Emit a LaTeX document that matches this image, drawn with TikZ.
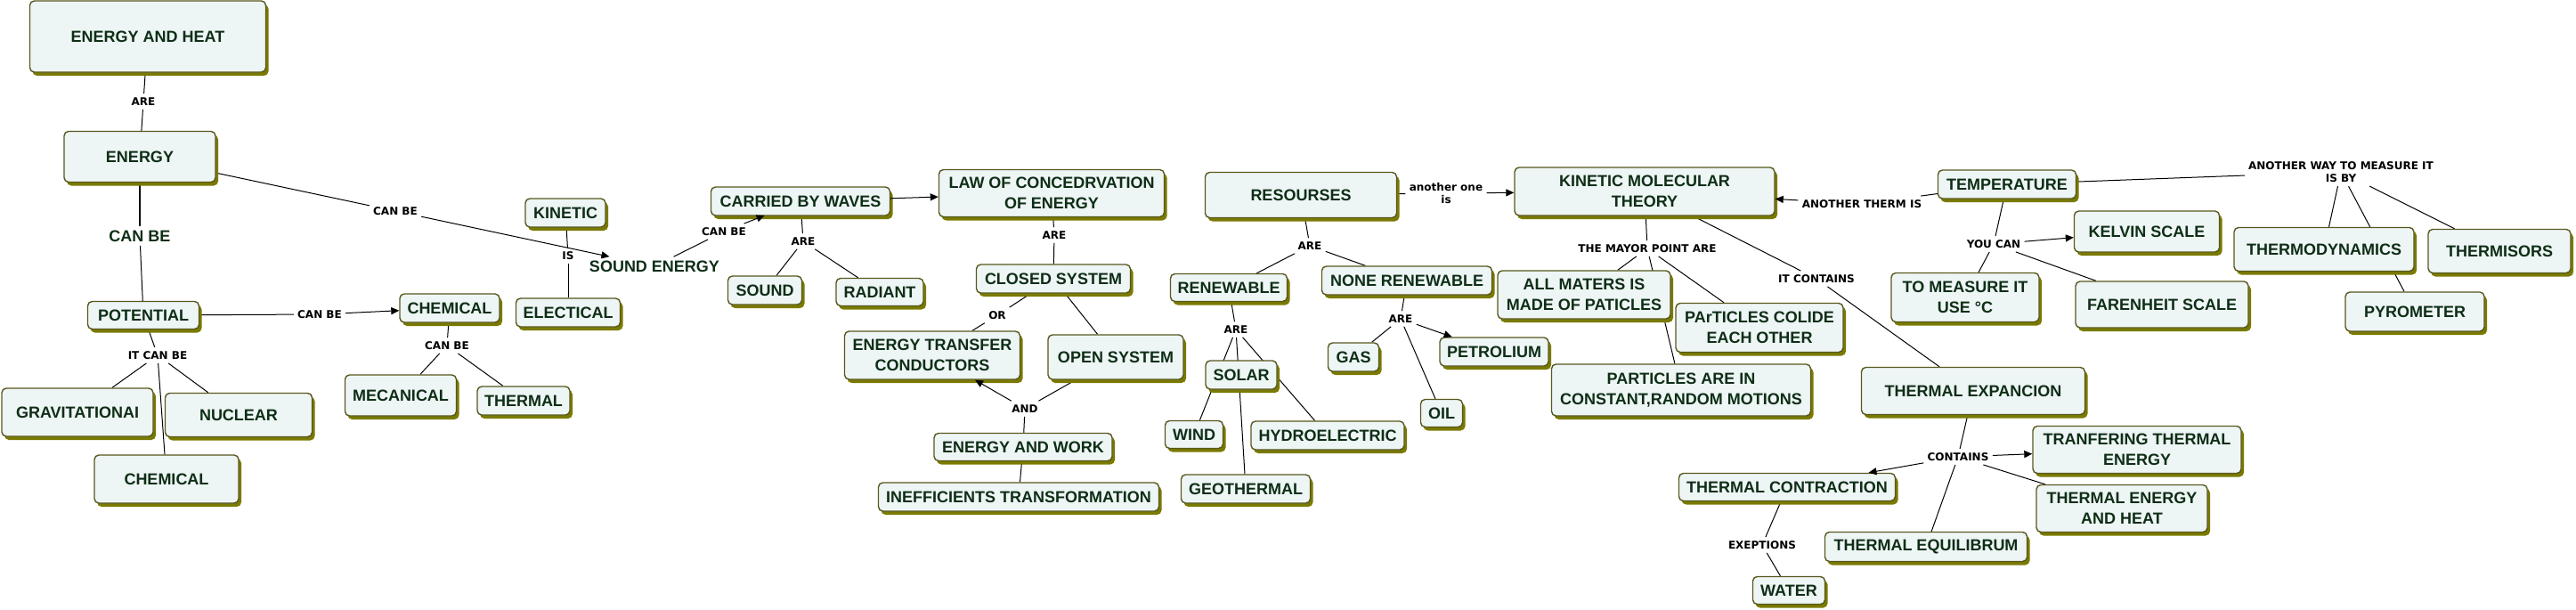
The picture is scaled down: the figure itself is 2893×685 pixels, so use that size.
\documentclass[tikz,border=0pt]{standalone}
\usepackage{fontspec}
\usepackage{xcolor}
\usetikzlibrary{arrows.meta, shadows, backgrounds}
\newfontfamily\conceptfont{Liberation Sans}
\newfontfamily\linkfont{DejaVu Sans}
\definecolor{boxfill}{RGB}{238,245,245}
\definecolor{boxline}{RGB}{88,88,30}
\definecolor{shadowolive}{RGB}{122,122,0}
\definecolor{conceptgreen}{RGB}{14,46,22}

\begin{document}
\begin{tikzpicture}[
  x=0.5pt, y=-0.5pt,
  concept/.style={rectangle, rounded corners=2.5pt, draw=boxline, line width=0.7pt,
                  fill=boxfill, text=conceptgreen, align=center, inner sep=2pt,
                  font=\conceptfont\bfseries\fontsize{9}{11.3}\selectfont,
                  drop shadow={shadow xshift=1.5pt, shadow yshift=-2pt,
                               fill=shadowolive, opacity=1}},
  bare/.style={text=conceptgreen, inner sep=2pt,
               font=\conceptfont\bfseries\fontsize{9}{11.3}\selectfont},
  link/.style={text=black, align=center, inner sep=2pt,
               font=\linkfont\bfseries\fontsize{6}{7.2}\selectfont},
  conn/.style={line width=0.5pt, black},
  arr/.style={conn, -{Triangle[length=4.5pt, width=4pt]}},
]
\useasboundingbox (0,0) rectangle (2893,685);

% Energy
\node[concept, minimum width=132.5pt, minimum height=40pt] (heat) at (166,41) {ENERGY AND HEAT};
\node[concept, minimum width=85pt, minimum height=28.5pt] (energy) at (157,176) {ENERGY};
\node[bare] (canbig) at (157,265) {CAN BE};
\node[concept, minimum width=62.5pt, minimum height=15.5pt] (potential) at (161,354) {POTENTIAL};
\node[concept, minimum width=85pt, minimum height=27pt] (gravit) at (87,463) {GRAVITATIONAI};
\node[concept, minimum width=82.5pt, minimum height=24.5pt] (nuclear) at (268,466) {NUCLEAR};
\node[concept, minimum width=81pt, minimum height=27pt] (chemB) at (187,538) {CHEMICAL};
\node[concept, minimum width=56pt, minimum height=16pt] (chemA) at (505,346) {CHEMICAL};
\node[concept, minimum width=62.5pt, minimum height=23pt] (mecanical) at (450,444) {MECANICAL};
\node[concept, minimum width=52pt, minimum height=16pt] (thermal) at (588,450) {THERMAL};
\node[concept, minimum width=45pt, minimum height=16pt] (kinetic) at (635,239) {KINETIC};
\node[concept, minimum width=58.5pt, minimum height=16pt] (electical) at (638,351) {ELECTICAL};
\node[bare] (soundenergy) at (735,299) {SOUND ENERGY};

% Waves and conservation
\node[concept, minimum width=100.5pt, minimum height=16pt] (carried) at (899,226) {CARRIED BY WAVES};
\node[concept, minimum width=41.5pt, minimum height=16pt] (sound) at (859,326) {SOUND};
\node[concept, minimum width=49pt, minimum height=15.5pt] (radiant) at (988,328) {RADIANT};
\node[concept, minimum width=126.5pt, minimum height=26.5pt] (law) at (1181,217) {LAW OF CONCEDRVATION\\OF ENERGY};
\node[concept, minimum width=86.5pt, minimum height=16pt] (closed) at (1183,313) {CLOSED SYSTEM};
\node[concept, minimum width=98.5pt, minimum height=27pt] (transfer) at (1047,399) {ENERGY TRANSFER\\CONDUCTORS};
\node[concept, minimum width=76pt, minimum height=25pt] (open) at (1253,401) {OPEN SYSTEM};
\node[concept, minimum width=100pt, minimum height=15.5pt] (work) at (1149,502) {ENERGY AND WORK};
\node[concept, minimum width=157.5pt, minimum height=16pt] (ineff) at (1144,558) {INEFFICIENTS TRANSFORMATION};

% Resources
\node[concept, minimum width=107.5pt, minimum height=25.5pt] (resourses) at (1461,219) {RESOURSES};
\node[concept, minimum width=65.5pt, minimum height=15.5pt] (renewable) at (1380,323) {RENEWABLE};
\node[concept, minimum width=95.5pt, minimum height=16pt] (nonren) at (1580,315) {NONE RENEWABLE};
\node[concept, minimum width=40pt, minimum height=16pt] (solar) at (1394,421) {SOLAR};
\node[concept, minimum width=32.5pt, minimum height=15.5pt] (wind) at (1341,488) {WIND};
\node[concept, minimum width=86pt, minimum height=16pt] (hydro) at (1491,489) {HYDROELECTRIC};
\node[concept, minimum width=72.5pt, minimum height=16pt] (geo) at (1399,549) {GEOTHERMAL};
\node[concept, minimum width=28.5pt, minimum height=16pt] (gas) at (1520,401) {GAS};
\node[concept, minimum width=61pt, minimum height=16pt] (petrol) at (1678,395) {PETROLIUM};
\node[concept, minimum width=23.5pt, minimum height=15.5pt] (oil) at (1619,464) {OIL};

% Kinetic molecular theory
\node[concept, minimum width=146pt, minimum height=27pt] (kmt) at (1847,215) {KINETIC MOLECULAR\\THEORY};
\node[concept, minimum width=97pt, minimum height=27pt] (allmat) at (1779,331) {ALL MATERS IS\\MADE OF PATICLES};
\node[concept, minimum width=94pt, minimum height=27.5pt] (colide) at (1976,368) {PArTICLES COLIDE\\EACH OTHER};
\node[concept, minimum width=145.5pt, minimum height=29pt] (constant) at (1888,438) {PARTICLES ARE IN\\CONSTANT,RANDOM MOTIONS};

% Temperature
\node[concept, minimum width=77.5pt, minimum height=16pt] (temp) at (2254,207) {TEMPERATURE};
\node[concept, minimum width=81.5pt, minimum height=23pt] (kelvin) at (2411,260) {KELVIN SCALE};
\node[concept, minimum width=83pt, minimum height=27.5pt] (measure) at (2207,334) {TO MEASURE IT\\USE °C};
\node[concept, minimum width=97pt, minimum height=26pt] (farenheit) at (2428,342) {FARENHEIT SCALE};
\node[concept, minimum width=101pt, minimum height=24.5pt] (thermodyn) at (2610,280) {THERMODYNAMICS};
\node[concept, minimum width=80pt, minimum height=24.5pt] (thermisors) at (2807,282) {THERMISORS};
\node[concept, minimum width=78pt, minimum height=22pt] (pyrometer) at (2712,350) {PYROMETER};

% Thermal expansion
\node[concept, minimum width=125.5pt, minimum height=26.5pt] (expancion) at (2216,439) {THERMAL EXPANCION};
\node[concept, minimum width=117pt, minimum height=26.5pt] (tranfering) at (2400,505) {TRANFERING THERMAL\\ENERGY};
\node[concept, minimum width=96pt, minimum height=26.5pt] (tenergy) at (2383,571) {THERMAL ENERGY\\AND HEAT};
\node[concept, minimum width=121.5pt, minimum height=15.5pt] (contraction) at (2007,547) {THERMAL CONTRACTION};
\node[concept, minimum width=113.5pt, minimum height=16.5pt] (equilibrum) at (2163,614) {THERMAL EQUILIBRUM};
\node[concept, minimum width=40.5pt, minimum height=15.5pt] (water) at (2009,663) {WATER};

% Linking phrases
\node[link] (lAre) at (161,114) {ARE};
\node[link] (lCanE) at (444,237) {CAN BE};
\node[link] (lIs) at (638,287) {IS};
\node[link] (lCanP) at (359,353) {CAN BE};
\node[link] (lItCan) at (177,399) {IT CAN BE};
\node[link] (lCanC) at (502,388) {CAN BE};
\node[link] (lCanS) at (813,260) {CAN BE};
\node[link] (lAreW) at (902,271) {ARE};
\node[link] (lAreL) at (1184,264) {ARE};
\node[link] (lOr) at (1120,354) {OR};
\node[link] (lAnd) at (1151,459) {AND};
\node[link] (lAnother) at (1624,217) {another one\\is};
\node[link] (lAreR) at (1471,276) {ARE};
\node[link] (lAreRen) at (1388,370) {ARE};
\node[link] (lAreNon) at (1573,358) {ARE};
\node[link] (lMayor) at (1850,279) {THE MAYOR POINT ARE};
\node[link] (lItCont) at (2040,313) {IT CONTAINS};
\node[link] (lTherm) at (2091,229) {ANOTHER THERM IS};
\node[link] (lYouCan) at (2239,274) {YOU CAN};
\node[link] (lWay) at (2629,193) {ANOTHER WAY TO MEASURE IT\\IS BY};
\node[link] (lCont) at (2199,513) {CONTAINS};
\node[link] (lExep) at (1979,612) {EXEPTIONS};

% Plain links
\begin{scope}[on background layer]
\draw[conn] (heat) -- (lAre);
\draw[conn] (lAre) -- (energy);
\draw[conn, line width=1pt] (energy) -- (canbig);
\draw[conn] (canbig) -- (potential);
\draw[conn] (energy) -- (lCanE);
\draw[conn] (kinetic) -- (lIs);
\draw[conn] (lIs) -- (electical);
\draw[conn] (potential) -- (lCanP);
\draw[conn] (potential) -- (lItCan);
\draw[conn] (lItCan) -- (gravit);
\draw[conn] (lItCan) -- (nuclear);
\draw[conn] (lItCan) -- (chemB);
\draw[conn] (chemA) -- (lCanC);
\draw[conn] (lCanC) -- (mecanical);
\draw[conn] (lCanC) -- (thermal);
\draw[conn] (soundenergy) -- (lCanS);
\draw[conn] (carried) -- (lAreW);
\draw[conn] (lAreW) -- (sound);
\draw[conn] (lAreW) -- (radiant);
\draw[conn] (law) -- (lAreL);
\draw[conn] (lAreL) -- (closed);
\draw[conn] (closed) -- (lOr);
\draw[conn] (lOr) -- (transfer);
\draw[conn] (closed) -- (open);
\draw[conn] (open) -- (lAnd);
\draw[conn] (lAnd) -- (work);
\draw[conn] (work) -- (ineff);
\draw[conn] (resourses) -- (lAnother);
\draw[conn] (resourses) -- (lAreR);
\draw[conn] (lAreR) -- (renewable);
\draw[conn] (lAreR) -- (nonren);
\draw[conn] (renewable) -- (lAreRen);
\draw[conn] (lAreRen) -- (wind);
\draw[conn] (lAreRen) -- (geo);
\draw[conn] (lAreRen) -- (hydro);
\draw[conn] (nonren) -- (lAreNon);
\draw[conn] (lAreNon) -- (gas);
\draw[conn] (lAreNon) -- (oil);
\draw[conn] (kmt) -- (lMayor);
\draw[conn] (lMayor) -- (allmat);
\draw[conn] (lMayor) -- (colide);
\draw[conn] (lMayor) -- (constant);
\draw[conn] (kmt) -- (lItCont);
\draw[conn] (lItCont) -- (expancion);
\draw[conn] (temp) -- (lTherm);
\draw[conn] (temp) -- (lWay);
\draw[conn] (lWay) -- (thermodyn);
\draw[conn] (lWay) -- (thermisors);
\draw[conn] (lWay) -- (pyrometer);
\draw[conn] (temp) -- (lYouCan);
\draw[conn] (lYouCan) -- (measure);
\draw[conn] (lYouCan) -- (farenheit);
\draw[conn] (expancion) -- (lCont);
\draw[conn] (lCont) -- (equilibrum);
\draw[conn] (lCont) -- (tenergy);
\draw[conn] (contraction) -- (lExep);
\draw[conn] (lExep) -- (water);
\end{scope}

% Directed links
\draw[arr] (lCanE) -- (soundenergy);
\draw[arr] (lCanP) -- (chemA);
\draw[arr, shorten >=-1pt] (lCanS) -- (carried);
\draw[arr] (carried) -- (law);
\draw[arr] (lAnd) -- (transfer);
\draw[arr] (lAnother) -- (kmt);
\draw[arr] (lAreNon) -- (petrol);
\draw[arr] (lTherm) -- (kmt);
\draw[arr] (lYouCan) -- (kelvin);
\draw[arr] (lCont) -- (tranfering);
\draw[arr] (lCont) -- (contraction);

\end{tikzpicture}
\end{document}
